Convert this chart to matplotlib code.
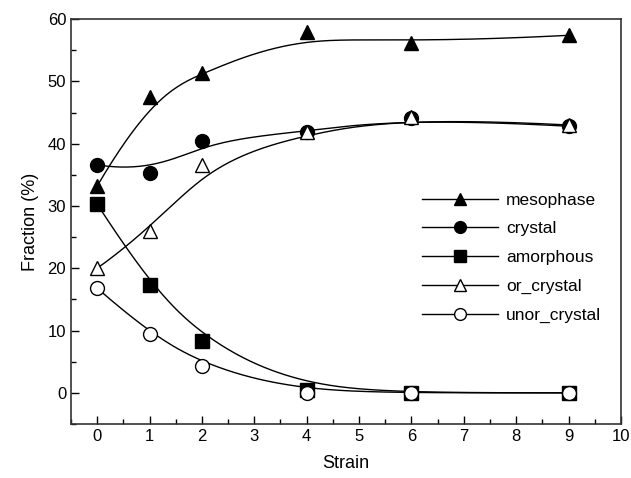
import matplotlib

matplotlib.use("Agg")
import matplotlib.pyplot as plt  # noqa: E402
import numpy as np  # noqa: E402
from matplotlib.ticker import MultipleLocator  # noqa: E402

plt.rcParams["font.family"] = ["Liberation Sans", "DejaVu Sans"]

strain = [0, 1, 2, 4, 6, 9]
mesophase = [33.2, 47.5, 51.3, 58.0, 56.1, 57.4]
crystal = [36.6, 35.3, 40.5, 41.9, 44.2, 42.8]
amorphous = [30.3, 17.3, 8.4, 0.4, 0.0, 0.0]
or_crystal = [20.0, 26.0, 36.5, 41.8, 44.3, 43.0]
unor_crystal = [16.8, 9.5, 4.3, 0.0, 0.0, 0.0]

series = [
    ("mesophase", mesophase, "^", "black"),
    ("crystal", crystal, "o", "black"),
    ("amorphous", amorphous, "s", "black"),
    ("or_crystal", or_crystal, "^", "white"),
    ("unor_crystal", unor_crystal, "o", "white"),
]


def _bspline(xs, ys, k=3, n=300):
    """Clamped B-spline using the data points as control points."""
    cp = np.column_stack([xs, ys]).astype(float)
    m = len(cp)
    knots = np.concatenate([np.zeros(k), np.linspace(0, 1, m - k + 1), np.ones(k)])
    t = np.linspace(0, 1, n)
    nb = len(knots) - 1
    N = np.zeros((nb, n))
    for i in range(nb):
        N[i] = (knots[i] <= t) & (t < knots[i + 1])
    # include the end point in the last non-empty interval
    last = np.max(np.nonzero(knots[:-1] < knots[1:])[0])
    N[last, -1] = 1.0
    for d in range(1, k + 1):
        Nn = np.zeros((nb - d, n))
        for i in range(nb - d):
            a = knots[i + d] - knots[i]
            b = knots[i + d + 1] - knots[i + 1]
            left = (t - knots[i]) / a * N[i] if a > 0 else 0.0
            right = (knots[i + d + 1] - t) / b * N[i + 1] if b > 0 else 0.0
            Nn[i] = left + right
        N = Nn
    pts = N.T @ cp
    return pts[:, 0], pts[:, 1]


fig = plt.figure(figsize=(6.31, 4.78), dpi=100)
ax = fig.add_axes([0.1125, 0.113, 0.8715, 0.847])

handles = []
for label, vals, marker, face in series:
    cx, cy = _bspline(strain, vals)
    ax.plot(cx, cy, color="black", lw=1.0, zorder=2)
    ax.plot(strain, vals, linestyle="none", marker=marker, ms=10,
            mfc=face, mec="black", mew=1.0, zorder=3)
    (h,) = ax.plot([], [], color="black", lw=1.0, marker=marker, ms=8.5,
                   mfc=face, mec="black", mew=1.0, label=label)
    handles.append(h)

ax.set_xlim(-0.5, 10)
ax.set_ylim(-5, 60)
ax.xaxis.set_major_locator(MultipleLocator(1))
ax.xaxis.set_minor_locator(MultipleLocator(0.5))
ax.yaxis.set_major_locator(MultipleLocator(10))
ax.yaxis.set_minor_locator(MultipleLocator(5))
ax.tick_params(which="both", direction="in", top=False, right=False, labelsize=12)
ax.tick_params(which="major", length=6, width=1)
ax.tick_params(which="minor", length=3.5, width=1)
for sp in ax.spines.values():
    sp.set_linewidth(1.2)
    sp.set_color("#333333")

ax.set_xlabel("Strain", fontsize=13, labelpad=8)
ax.set_ylabel("Fraction (%)", fontsize=13, labelpad=6)

ax.legend(handles=handles, loc="upper left", bbox_to_anchor=(0.61, 0.61),
          frameon=False, numpoints=1, handlelength=4.4, handletextpad=0.45,
          labelspacing=0.78, fontsize=12.5)

fig.savefig("out.png", dpi=100)
